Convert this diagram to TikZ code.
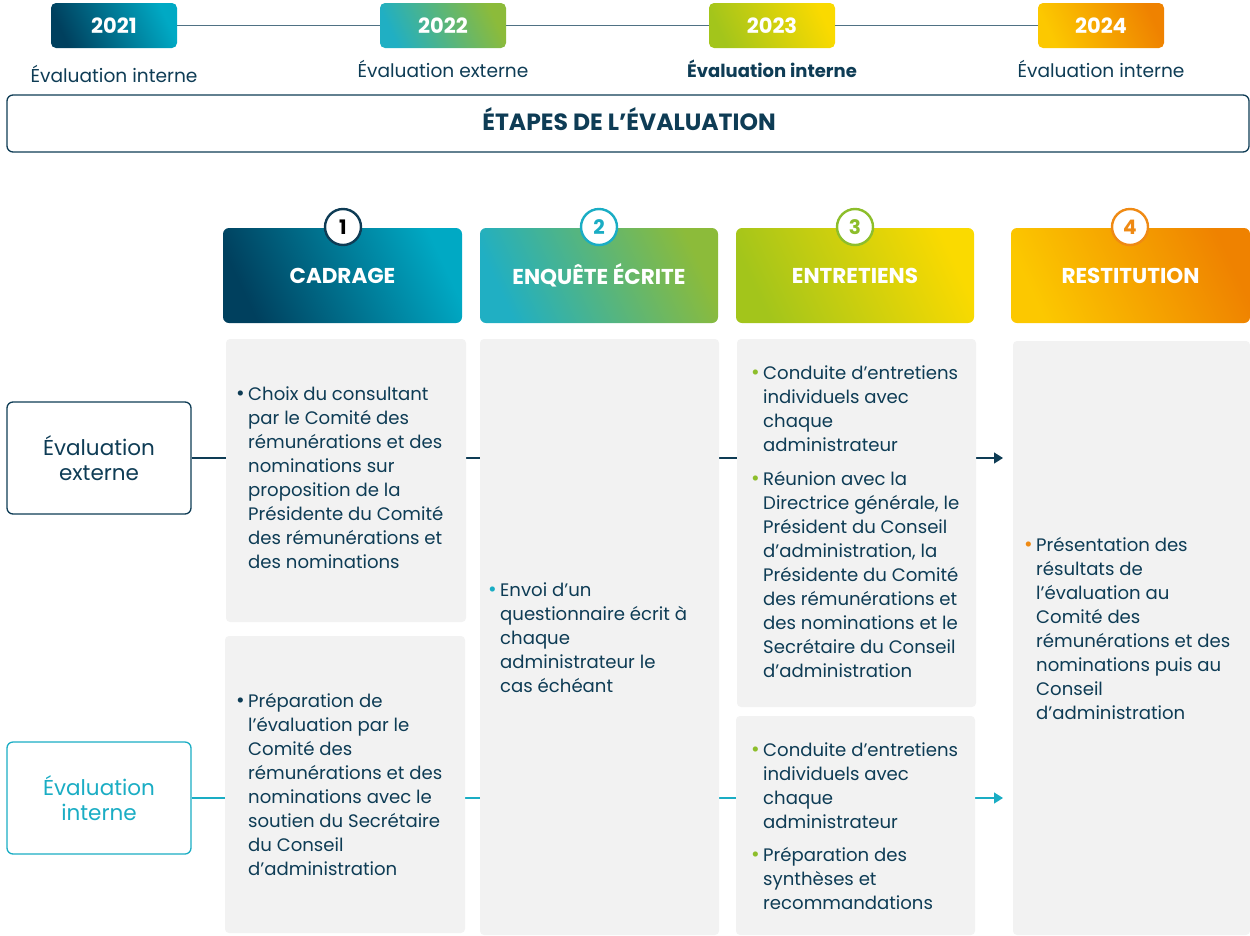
\documentclass[tikz,border=0pt]{standalone}
\usepackage{fontspec}
\setmainfont{Poppins}
\usetikzlibrary{arrows.meta}
\definecolor{navy}{HTML}{0E3C55}
\definecolor{tealc}{HTML}{1AADC4}
\definecolor{greenc}{HTML}{8DBE2B}
\definecolor{orangec}{HTML}{EF8A14}
\definecolor{grayc}{HTML}{F2F2F2}
\definecolor{linec}{HTML}{4F7184}
\definecolor{ca}{HTML}{00405E}\definecolor{cb}{HTML}{00A9C4}
\definecolor{cc}{HTML}{20AFC3}\definecolor{cd}{HTML}{8CBB3A}
\definecolor{ce}{HTML}{A3C51B}\definecolor{cf}{HTML}{FADA00}
\definecolor{cg}{HTML}{FCC800}\definecolor{ch}{HTML}{EF8200}
\newcommand{\bul}[1]{\llap{\textcolor{#1}{\fontsize{21}{24}\selectfont•}\hspace{3.5pt}}}
\begin{document}
\begin{tikzpicture}[x=1pt,y=-1pt,
  yearbox/.style={rounded corners=5pt, minimum width=126pt, minimum height=45pt, inner sep=0pt,
    text=white, font=\fontsize{21}{24}\selectfont\bfseries},
  yearlabel/.style={text=navy, font=\fontsize{18.6}{22}\selectfont},
  headbox/.style={rounded corners=6pt, minimum height=95pt, inner sep=0pt,
    text=white, font=\fontsize{21.5}{24}\selectfont\bfseries},
  numcircle/.style={circle, fill=white, line width=2.4pt, minimum size=36pt, inner sep=0pt,
    font=\fontsize{20}{22}\selectfont\bfseries},
  graybox/.style={fill=grayc, rounded corners=4pt, inner sep=0pt},
  sidebox/.style={rounded corners=6pt, line width=1.3pt, fill=white, minimum width=184pt,
    minimum height=112pt, inner sep=0pt, align=center, font=\fontsize{21.5}{25}\selectfont},
  bodytext/.style={anchor=west, align=left, inner sep=0pt, text=navy, font=\fontsize{18.1}{24}\selectfont},
  conn/.style={line width=1.3pt, -{Triangle[length=9pt,width=11pt]}}
]
\useasboundingbox (0,0) rectangle (1250,935);

% timeline
\node[yearbox, left color=ca, right color=cb, shading angle=115] (y1) at (114,25.5) {2021};
\node[yearbox, left color=cc, right color=cd, shading angle=115] (y2) at (443,25.5) {2022};
\node[yearbox, left color=ce, right color=cf, shading angle=115] (y3) at (772,25.5) {2023};
\node[yearbox, left color=cg, right color=ch, shading angle=115] (y4) at (1101,25.5) {2024};
\draw[linec, line width=1.3pt] (y1.east) -- (y2.west) (y2.east) -- (y3.west) (y3.east) -- (y4.west);
\node[yearlabel] (l1) at (114,74) {Évaluation interne};
\node[yearlabel] (l2) at (443,69) {Évaluation externe};
\node[yearlabel, font=\fontsize{18}{22}\selectfont\bfseries] (l3) at (772,69) {Évaluation interne};
\node[yearlabel] (l4) at (1101,69) {Évaluation interne};

% title
\node[draw=navy, line width=1.3pt, rounded corners=6pt, minimum width=1242pt, minimum height=57pt,
  inner sep=0pt] (title) at (628,123.5) {};
\node[text=navy, font=\fontsize{23.5}{26}\selectfont\bfseries, inner sep=0pt] (titletext) at (629,119.5)
  {ÉTAPES DE L’ÉVALUATION};

% headers
\node[headbox, minimum width=239pt, left color=ca, right color=cb, shading angle=115] (h1) at (342.5,275.5) {CADRAGE};
\node[headbox, minimum width=238pt, left color=cc, right color=cd, shading angle=115] (h2) at (599,275.5) {ENQUÊTE ÉCRITE};
\node[headbox, minimum width=238pt, left color=ce, right color=cf, shading angle=115] (h3) at (855,275.5) {ENTRETIENS};
\node[headbox, minimum width=239pt, left color=cg, right color=ch, shading angle=115] (h4) at (1130.5,275.5) {RESTITUTION};
\node[numcircle, draw=navy, text=black] (n1) at (343,227) {1};
\node[numcircle, draw=tealc, text=tealc] (n2) at (599,227) {2};
\node[numcircle, draw=greenc, text=greenc] (n3) at (855,227) {3};
\node[numcircle, draw=orangec, text=orangec] (n4) at (1130,227) {4};

% side boxes
\node[sidebox, draw=navy, text=navy] (ext) at (99,458) {Évaluation\\externe};
\node[sidebox, draw=tealc, text=tealc] (int) at (99,798) {Évaluation\\interne};

% connectors (behind gray boxes)
\coordinate (eend) at (1003,458);
\coordinate (iend) at (1003,798);
\draw[conn, navy] (ext.east) -- (eend);
\draw[conn, tealc] (int.east) -- (iend);

% gray boxes
\node[graybox, minimum width=240pt, minimum height=283pt] (g1a) at (346,480.5) {};
\node[graybox, minimum width=240pt, minimum height=297pt] (g1b) at (345,784.5) {};
\node[graybox, minimum width=239pt, minimum height=596pt] (g2) at (599.5,637) {};
\node[graybox, minimum width=239pt, minimum height=368pt] (g3a) at (856.5,523) {};
\node[graybox, minimum width=239pt, minimum height=219pt] (g3b) at (855.5,825.5) {};
\node[graybox, minimum width=237pt, minimum height=594pt] (g4) at (1131.5,638) {};

% texts
\node[bodytext] (t1a) at (248,478) {\bul{navy}Choix du consultant\\par le Comité des\\rémunérations et des\\nominations sur\\proposition de la\\Présidente du Comité\\des rémunérations et\\des nominations};
\node[bodytext] (t1b) at (248,784) {\bul{navy}Préparation de\\l’évaluation par le\\Comité des\\rémunérations et des\\nominations avec le\\soutien du Secrétaire\\du Conseil\\d’administration};
\node[bodytext] (t2) at (500,637.5) {\bul{tealc}Envoi d’un\\questionnaire écrit à\\chaque\\administrateur le\\cas échéant};
\node[bodytext] (t3a) at (763,522) {\bul{greenc}Conduite d’entretiens\\individuels avec\\chaque\\administrateur\\[10pt]\bul{greenc}Réunion avec la\\Directrice générale, le\\Président du Conseil\\d’administration, la\\Présidente du Comité\\des rémunérations et\\des nominations et le\\Secrétaire du Conseil\\d’administration};
\node[bodytext] (t3b) at (763,826) {\bul{greenc}Conduite d’entretiens\\individuels avec\\chaque\\administrateur\\[9pt]\bul{greenc}Préparation des\\synthèses et\\recommandations};
\node[bodytext] (t4) at (1036,628.5) {\bul{orangec}Présentation des\\résultats de\\l’évaluation au\\Comité des\\rémunérations et des\\nominations puis au\\Conseil\\d’administration};
\end{tikzpicture}
\end{document}
